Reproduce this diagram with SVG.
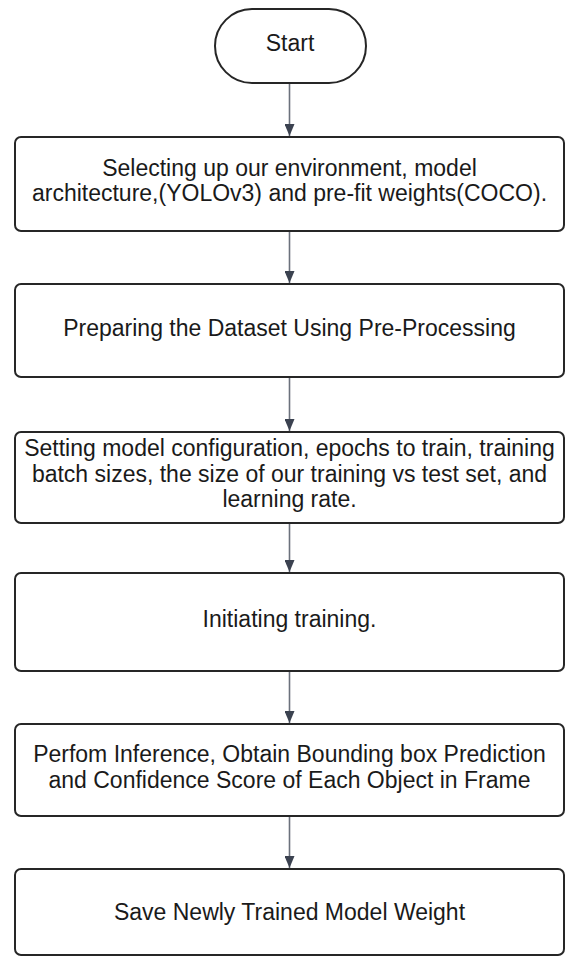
<svg xmlns="http://www.w3.org/2000/svg" width="566" height="958" viewBox="0 0 566 958">
  <defs>
    <style>
      .box { fill: #ffffff; stroke: #262626; stroke-width: 2; }
      .lbl { font-family: "Liberation Sans", Arial, sans-serif; font-size: 23px; fill: #1a1a1a; text-anchor: middle; }
      .edge { stroke: #6b717c; stroke-width: 1.6; fill: none; marker-end: url(#arrow); }
    </style>
    <marker id="arrow" markerWidth="12" markerHeight="10" refX="12" refY="5" orient="auto" markerUnits="userSpaceOnUse" viewBox="0 0 12 10">
      <path d="M0,0 L12,5 L0,10 Z" fill="#3b4250"/>
    </marker>
  </defs>
  <rect width="566" height="958" fill="#ffffff"/>

  <!-- connectors -->
  <g id="connectors">
    <line class="edge" x1="289.5" y1="83" x2="289.5" y2="136"/>
    <line class="edge" x1="289.5" y1="231" x2="289.5" y2="283"/>
    <line class="edge" x1="289.5" y1="377" x2="289.5" y2="431"/>
    <line class="edge" x1="289.5" y1="523" x2="289.5" y2="572"/>
    <line class="edge" x1="289.5" y1="671" x2="289.5" y2="723"/>
    <line class="edge" x1="289.5" y1="816" x2="289.5" y2="868"/>
  </g>

  <!-- nodes -->
  <g id="start">
    <rect class="box" x="215" y="9" width="151" height="74" rx="37" ry="37"/>
    <text class="lbl" x="290" y="51">Start</text>
  </g>
  <g id="setup">
    <rect class="box" x="15" y="137" width="549" height="94" rx="6" ry="6"/>
    <text class="lbl" x="289.5" y="176">Selecting up our environment, model</text>
    <text class="lbl" x="289.5" y="201">architecture,(YOLOv3) and pre-fit weights(COCO).</text>
  </g>
  <g id="prepare">
    <rect class="box" x="15" y="284" width="549" height="93" rx="6" ry="6"/>
    <text class="lbl" x="289.5" y="336">Preparing the Dataset Using Pre-Processing</text>
  </g>
  <g id="configure">
    <rect class="box" x="15" y="432" width="549" height="91" rx="6" ry="6"/>
    <text class="lbl" x="289.5" y="456">Setting model configuration, epochs to train, training</text>
    <text class="lbl" x="289.5" y="482">batch sizes, the size of our training vs test set, and</text>
    <text class="lbl" x="289.5" y="507">learning rate.</text>
  </g>
  <g id="train">
    <rect class="box" x="15" y="573" width="549" height="98" rx="6" ry="6"/>
    <text class="lbl" x="289.5" y="627">Initiating training.</text>
  </g>
  <g id="inference">
    <rect class="box" x="15" y="724" width="549" height="92" rx="6" ry="6"/>
    <text class="lbl" x="289.5" y="762">Perfom Inference, Obtain Bounding box Prediction</text>
    <text class="lbl" x="289.5" y="788">and Confidence Score of Each Object in Frame</text>
  </g>
  <g id="save">
    <rect class="box" x="15" y="869" width="549" height="86" rx="6" ry="6"/>
    <text class="lbl" x="289.5" y="920">Save Newly Trained Model Weight</text>
  </g>
</svg>
